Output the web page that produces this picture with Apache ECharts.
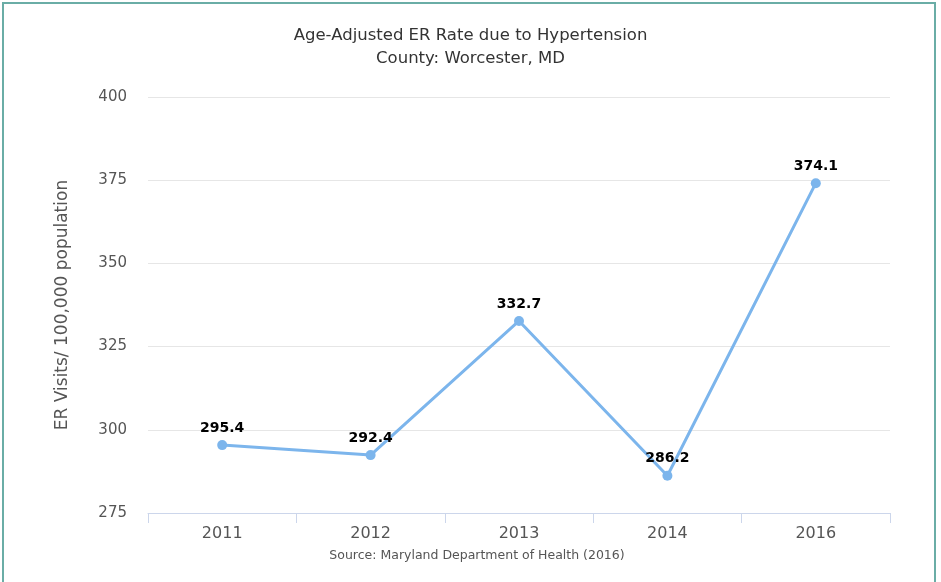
<!DOCTYPE html>
<html>
<head>
<meta charset="utf-8">
<script src="https://cdn.jsdelivr.net/npm/echarts@6/dist/echarts.min.js"></script>
<style>
  html, body { margin: 0; padding: 0; background: #fff; }
  #frame {
    position: absolute; left: 2px; top: 2px; width: 934px; height: 590px;
    border: 2px solid #6aada6; border-bottom: none; box-sizing: border-box;
  }
  #chart { position: absolute; left: 0; top: 0; width: 941px; height: 582px; }
</style>
</head>
<body>
<div id="frame"></div>
<div id="chart"></div>
<script>
// data
const years = ['2011', '2012', '2013', '2014', '2016']
const rates = [295.4, 292.4, 332.7, 286.2, 374.1]

const myChart = echarts.init(document.getElementById('chart'))
const option = {
  backgroundColor: 'transparent',
  animation: false,
  title: [
    {
      text: 'Age-Adjusted ER Rate due to Hypertension\nCounty: Worcester, MD',
      left: 'center',
      top: 19,
      textStyle: {
        color: '#333',
        fontSize: 16.5,
        fontWeight: 'normal',
        fontFamily: 'DejaVu Sans',
        lineHeight: 23
      }
    },
    {
      text: 'Source: Maryland Department of Health (2016)',
      left: 472,
      textAlign: 'center',
      top: 544,
      textStyle: {
        color: '#555',
        fontSize: 12.5,
        fontWeight: 'normal',
        fontFamily: 'DejaVu Sans'
      }
    }
  ],
  grid: {
    left: 148,
    right: 51,
    top: 97,
    bottom: 69
  },
  xAxis: {
    type: 'category',
    data: years,
    boundaryGap: true,
    axisLine: { show: true, lineStyle: { color: '#ccd6eb', width: 1 } },
    axisTick: { show: true, length: 10, alignWithLabel: false, lineStyle: { color: '#ccd6eb' } },
    axisLabel: {
      color: '#555',
      fontSize: 16,
      fontFamily: 'DejaVu Sans',
      margin: 13
    }
  },
  yAxis: {
    type: 'value',
    min: 275,
    max: 400,
    interval: 25,
    name: 'ER Visits/ 100,000 population',
    nameLocation: 'middle',
    nameGap: 77,
    nameTextStyle: {
      color: '#555',
      fontSize: 17,
      fontFamily: 'DejaVu Sans'
    },
    axisLine: { show: false },
    axisTick: { show: false },
    splitLine: { lineStyle: { color: '#e6e6e6', width: 1 } },
    axisLabel: {
      color: '#555',
      fontSize: 15,
      fontFamily: 'DejaVu Sans',
      margin: 21
    }
  },
  series: [
    {
      type: 'line',
      data: rates,
      symbol: 'circle',
      symbolSize: 10,
      lineStyle: { color: '#7cb5ec', width: 3 },
      itemStyle: { color: '#7cb5ec' },
      label: {
        show: true,
        position: 'top',
        distance: 5,
        color: '#000',
        fontSize: 14,
        fontWeight: 'bold',
        fontFamily: 'DejaVu Sans'
      }
    }
  ]
}
myChart.setOption(option)
</script>
</body>
</html>
